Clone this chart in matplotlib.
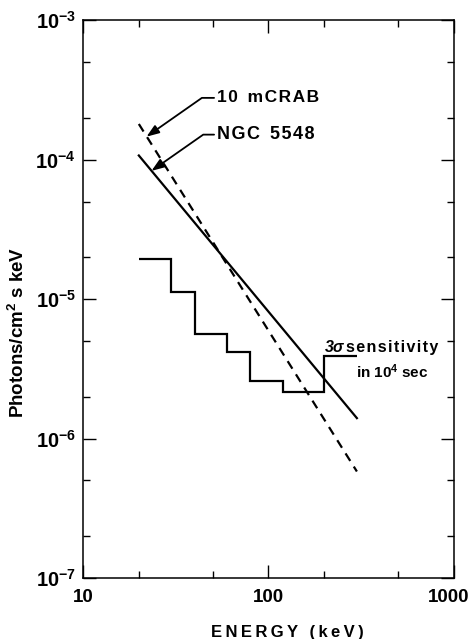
import numpy as np
import matplotlib.pyplot as plt
from matplotlib.ticker import LogLocator, FixedLocator, NullFormatter

plt.rcParams['font.family'] = ['Liberation Sans', 'DejaVu Sans']
plt.rcParams['font.weight'] = 'bold'
plt.rcParams['mathtext.fontset'] = 'custom'
plt.rcParams['mathtext.rm'] = 'Liberation Sans:bold'
plt.rcParams['mathtext.bf'] = 'Liberation Sans:bold'
plt.rcParams['mathtext.it'] = 'Liberation Sans:italic:bold'

# power-law spectra (straight lines in log-log), end points
ngc_energy = [20, 300]
ngc_flux = [1.07e-4, 1.4e-6]
crab_energy = [20, 300]
crab_flux = [1.8e-4, 5.8e-7]

# 3 sigma sensitivity in 1e4 s, step histogram
sens_edges = [20, 30, 40, 60, 80, 120, 200, 300]
sens_flux = [1.93e-5, 1.12e-5, 5.6e-6, 4.2e-6, 2.6e-6, 2.15e-6, 3.9e-6]

x_ticks = [10, 100, 1000]
x_labels = ['10', '100', '1000']
y_ticks = [1e-7, 1e-6, 1e-5, 1e-4, 1e-3]
y_labels = [r'$\mathbf{10^{-7}}$', r'$\mathbf{10^{-6}}$', r'$\mathbf{10^{-5}}$',
            r'$\mathbf{10^{-4}}$', r'$\mathbf{10^{-3}}$']

HS = '\u200a'  # hair space, the original lettering is slightly spaced out


def spaced(s):
    return HS.join(s)


fig = plt.figure(figsize=(4.73, 6.39), dpi=100)
ax = fig.add_axes([0.1755, 0.0955, 0.784, 0.873])

ax.plot(ngc_energy, ngc_flux, 'k-', lw=1.6)
ax.plot(crab_energy, crab_flux, 'k--', lw=1.6, dashes=(4, 3))
ax.stairs(sens_flux, sens_edges, color='k', lw=1.6, baseline=None)

ax.set_xscale('log')
ax.set_yscale('log')
ax.set_xlim(10, 1000)
ax.set_ylim(1e-7, 1e-3)

# the last label is placed by hand, a little left of its tick, so it stays on the page
ax.set_xticks(x_ticks)
ax.set_xticklabels(x_labels[:-1] + [''], fontsize=13.5, fontweight='bold')
ax.annotate(x_labels[-1], xy=(x_ticks[-1], 0), xycoords=('data', 'axes fraction'),
            xytext=(-4, -8), textcoords='offset points', ha='center', va='top',
            fontsize=13.5, fontweight='bold')
ax.xaxis.set_minor_locator(FixedLocator([20, 50, 200, 500]))
ax.xaxis.set_minor_formatter(NullFormatter())
ax.set_yticks(y_ticks)
ax.set_yticklabels(y_labels, fontsize=14.5)
ax.yaxis.set_minor_locator(LogLocator(base=10, subs=(2, 5)))
ax.yaxis.set_minor_formatter(NullFormatter())

ax.tick_params(which='both', direction='in', top=True, right=True, width=1.0)
ax.tick_params(which='major', length=9.5)
ax.tick_params(axis='y', which='major', pad=5)
ax.tick_params(axis='x', which='major', pad=8)
ax.tick_params(which='minor', length=5)
for s in ax.spines.values():
    s.set_linewidth(1.1)

ax.set_xlabel('E\u2009N\u2009E\u2009R\u2009G\u2009Y\u2009 \u2009(\u2009k\u2009e\u2009V\u2009)',
              fontsize=12, fontweight='bold')
ax.xaxis.set_label_coords(0.55, -0.084)
ax.set_ylabel(r'Photons/cm$^{\mathbf{2}}$ s keV', fontsize=13.5, fontweight='bold')
ax.yaxis.set_label_coords(-0.148, 0.44)

arrow = dict(arrowstyle='-|>,head_length=0.6,head_width=0.22', color='k', lw=1.3,
             shrinkA=0, shrinkB=0, connectionstyle='angle,angleA=0,angleB=35,rad=0')
ax.annotate(spaced('10') + '  ' + spaced('mCRAB'), xy=(22, 1.46e-4), xytext=(52.7, 2.77e-4),
            fontsize=12.5, fontweight='bold', ha='left', va='center', arrowprops=arrow)
ax.annotate(spaced('NGC') + '  ' + spaced('5548'), xy=(23.4, 8.3e-5), xytext=(52.7, 1.51e-4),
            fontsize=13, fontweight='bold', ha='left', va='center', arrowprops=arrow)

ax.text(202, 4.5e-6, '3\u03c3', fontsize=11.5, fontstyle='italic', fontweight='bold',
        ha='left', va='center')
ax.text(262, 4.5e-6, spaced('sensitivity'), fontsize=11.5, fontweight='bold',
        ha='left', va='center')
ax.text(295, 3.0e-6, r'in $\mathbf{10^4}$ sec', fontsize=11, fontweight='bold',
        ha='left', va='center')

fig.savefig('out.png', dpi=100)
